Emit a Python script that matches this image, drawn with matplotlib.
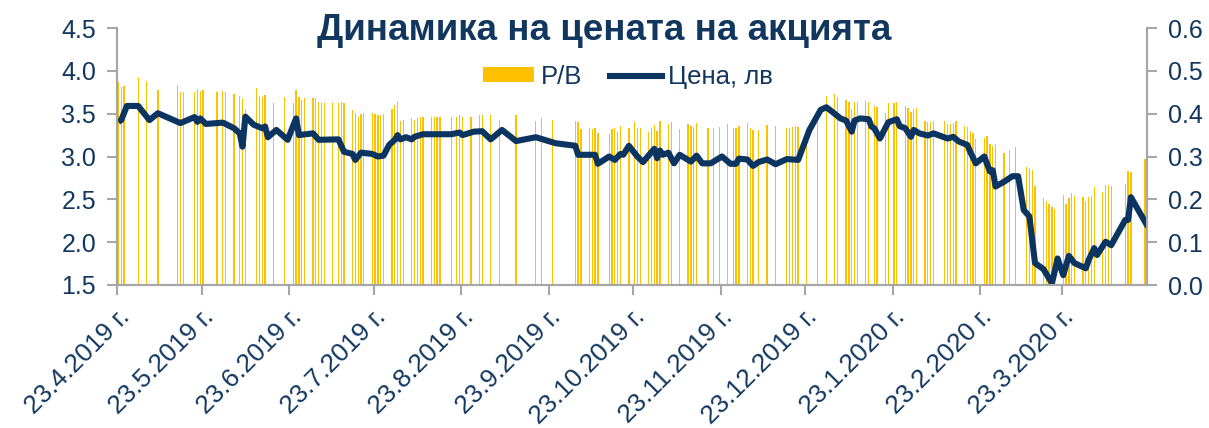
import numpy as np
import pandas as pd
import matplotlib
matplotlib.use('Agg')
import matplotlib.pyplot as plt
import matplotlib.ticker as mticker
from matplotlib.lines import Line2D
from matplotlib.patches import Patch

plt.rcParams['font.family'] = ['Liberation Sans', 'DejaVu Sans']

# Data: day offsets counted from 23.4.2019
start = pd.Timestamp('2019-04-23')

# P/B ratio (left axis), one bar per session
pb_day = [0, 1, 2, 7, 10, 14, 21, 22, 23, 27, 28, 29, 30, 35, 37, 38, 41, 43, 44, 45,
          49, 50, 51, 52, 55, 59, 62, 63, 64, 65, 66, 69, 70, 71, 72, 73, 76, 78, 79, 80,
          83, 84, 85, 86, 87, 90, 91, 92, 93, 94,
          97, 98, 99, 100, 101, 104, 105, 106, 107, 108, 111, 112, 113, 114, 118, 120, 121,
          122, 125, 128, 129, 132, 135,
          141, 148, 150, 154, 162, 163, 164, 167, 168, 169, 170, 174, 175, 176, 177, 178,
          181, 183, 184, 185,
          188, 189, 190, 191, 192, 195, 196, 199, 202, 203, 204, 205, 209, 211, 213, 216,
          218, 219, 220, 223, 224, 225, 227, 230,
          233, 237, 238, 239, 240, 241, 244, 248, 251, 254, 255, 258, 259, 260, 261, 262,
          265, 266, 268, 269, 272, 273, 275, 276,
          279, 280, 281, 282, 283, 286, 287, 288, 289, 293, 294, 295, 296, 297, 300, 301,
          302, 303, 304, 307, 308, 309, 310, 311, 314, 316, 318, 322, 323, 324,
          325, 328, 329, 330, 331, 332, 335, 336, 337, 338, 339, 342, 343, 344, 345, 346,
          349, 350, 351, 352, 357, 358, 359, 364]
pb_val = [3.87, 3.81, 3.82, 3.93, 3.88, 3.78, 3.83, 3.75, 3.75, 3.75, 3.79, 3.76, 3.78, 3.75, 3.76, 3.75, 3.73, 3.71, 3.67, 3.56,
          3.80, 3.71, 3.69, 3.72, 3.63, 3.70, 3.62, 3.78, 3.70, 3.66, 3.68, 3.68, 3.68, 3.64, 3.62, 3.62, 3.63, 3.62, 3.64, 3.62,
          3.54, 3.51, 3.46, 3.50, 3.51, 3.51, 3.50, 3.49, 3.49, 3.50,
          3.56, 3.60, 3.65, 3.42, 3.43, 3.45, 3.43, 3.45, 3.46, 3.46, 3.46, 3.46, 3.46, 3.46, 3.46, 3.46, 3.48,
          3.46, 3.46, 3.48, 3.48, 3.49, 3.43,
          3.49, 3.42, 3.45, 3.43, 3.41, 3.40, 3.32, 3.33, 3.32, 3.33, 3.28, 3.26, 3.32, 3.33, 3.29, 3.36,
          3.33, 3.40, 3.33, 3.33,
          3.29, 3.33, 3.37, 3.30, 3.41, 3.38, 3.40, 3.32, 3.38, 3.36, 3.35, 3.39, 3.33, 3.33, 3.35, 3.38,
          3.33, 3.33, 3.36, 3.39, 3.33, 3.31, 3.31, 3.37,
          3.36, 3.33, 3.33, 3.35, 3.36, 3.34, 3.31, 3.40, 3.71, 3.73, 3.69, 3.66, 3.64, 3.56, 3.64, 3.64,
          3.65, 3.64, 3.59, 3.58, 3.51, 3.62, 3.63, 3.64,
          3.59, 3.57, 3.52, 3.56, 3.57, 3.41, 3.40, 3.40, 3.41, 3.41, 3.38, 3.38, 3.39, 3.41, 3.36, 3.34,
          3.30, 3.27, 3.20, 3.22, 3.24, 3.15, 3.12, 3.15, 3.04, 3.08, 3.11, 2.88, 2.86, 2.84,
          2.65, 2.52, 2.48, 2.44, 2.41, 2.39, 2.55, 2.44, 2.52, 2.57, 2.54, 2.53, 2.48, 2.53, 2.54, 2.64,
          2.59, 2.67, 2.67, 2.65, 2.68, 2.83, 2.82, 2.97]

# share price, lv (right axis)
price_day = [0, 1, 3, 7, 11, 14, 22, 27, 28, 29, 31, 37, 38, 41, 43, 44, 45, 48, 51, 52,
             53, 56, 60, 63, 64, 69, 71, 78, 80, 83, 84, 86, 90, 92, 94, 96, 98, 99, 100, 102,
             104, 105, 108, 118, 121, 122, 126, 129, 132, 136, 141, 148, 155, 162, 163, 169, 170, 174, 176, 178,
             179, 181, 184, 186, 190, 191, 192, 193, 195, 197, 199, 203, 205, 207, 210, 214, 217, 219, 220, 223,
             225, 227, 230, 233, 237, 241, 245, 249, 251, 253, 256, 258, 260, 261, 263, 266, 267, 268, 270, 273,
             276, 277, 279, 281, 282, 284, 287, 289, 294, 296, 298, 301, 302, 304, 307, 309, 310, 311, 314, 317,
             319, 321, 323, 325, 328, 331, 333, 335, 337, 339, 343, 344, 346, 347, 350, 352, 357, 358, 359, 365]
price_val = [0.381, 0.385, 0.418, 0.418, 0.385, 0.401, 0.378, 0.392, 0.381, 0.389, 0.376, 0.379, 0.376, 0.366, 0.354, 0.323, 0.393, 0.374, 0.366, 0.370,
             0.345, 0.362, 0.339, 0.389, 0.350, 0.354, 0.339, 0.340, 0.311, 0.306, 0.292, 0.309, 0.306, 0.300, 0.302, 0.327, 0.339, 0.350, 0.340, 0.345,
             0.340, 0.346, 0.352, 0.352, 0.356, 0.350, 0.358, 0.359, 0.340, 0.362, 0.336, 0.345, 0.331, 0.325, 0.304, 0.304, 0.283, 0.300, 0.292, 0.306,
             0.304, 0.325, 0.300, 0.287, 0.318, 0.296, 0.314, 0.304, 0.309, 0.284, 0.304, 0.288, 0.302, 0.284, 0.284, 0.300, 0.283, 0.283, 0.295, 0.293,
             0.278, 0.287, 0.293, 0.282, 0.294, 0.292, 0.362, 0.409, 0.415, 0.405, 0.389, 0.384, 0.358, 0.384, 0.389, 0.387, 0.370, 0.366, 0.342, 0.380,
             0.387, 0.371, 0.366, 0.346, 0.362, 0.354, 0.349, 0.354, 0.342, 0.346, 0.335, 0.327, 0.311, 0.284, 0.300, 0.265, 0.268, 0.230, 0.241, 0.254,
             0.254, 0.175, 0.160, 0.051, 0.037, 0.004, 0.062, 0.023, 0.068, 0.051, 0.039, 0.058, 0.086, 0.070, 0.101, 0.093, 0.152, 0.152, 0.205, 0.136]

title = 'Динамика на цената на акцията'
bar_label = 'P/B'
line_label = 'Цена, лв'

navy = '#0B3560'
text_col = '#12375F'
gold = '#FFC000'
grey = '#A6A6A6'

fig = plt.figure(figsize=(12.09, 4.28), dpi=100)
ax = fig.add_axes([117 / 1209, 1 - 285 / 428, 1030 / 1209, 257 / 428])
ax2 = ax.twinx()

half = pd.Timedelta(hours=12)
pb_dates = start + pd.to_timedelta(pb_day, unit='D') + half
price_dates = start + pd.to_timedelta(price_day, unit='D') + half

ax.bar(pb_dates, pb_val, width=0.45, color=gold, linewidth=0, bottom=0)
ax2.plot(price_dates, price_val, color=navy, lw=4.4, solid_joinstyle='round',
         solid_capstyle='butt')

ax.set_ylim(1.5, 4.5)
ax.set_yticks(np.arange(1.5, 4.51, 0.5))
ax.yaxis.set_major_formatter(mticker.FormatStrFormatter('%.1f'))
ax2.set_ylim(0, 0.6)
ax2.set_yticks(np.arange(0, 0.61, 0.1))
ax2.yaxis.set_major_formatter(mticker.FormatStrFormatter('%.1f'))

ax.set_xlim(start, start + pd.Timedelta(days=365.2))
ticks = [start + pd.DateOffset(months=i) for i in range(12)]
ax.set_xticks(ticks)
ax.set_xticklabels([f'{d.day}.{d.month}.{d.year} г.' for d in ticks],
                   rotation=45, ha='right', va='top', rotation_mode='anchor')

for a in (ax, ax2):
    a.spines['top'].set_visible(False)
    for side in ('left', 'right', 'bottom'):
        a.spines[side].set_color(grey)
        a.spines[side].set_linewidth(1.5)
    a.tick_params(colors=grey, labelcolor=text_col, labelsize=18, length=7, width=1.5,
                  direction='out')
ax.tick_params(axis='x', pad=7, labelsize=18.8)
ax.tick_params(axis='y', pad=8)
ax2.tick_params(axis='y', pad=8)
ax.set_zorder(0)
ax2.set_zorder(1)

fig.text(0.5, 1 - 31 / 428, title, ha='center', va='center', fontsize=26.5,
         fontweight='bold', color=text_col)

handles = [Patch(facecolor=gold, edgecolor='none'),
           Line2D([], [], color=navy, lw=4.4)]
ax2.legend(handles, [bar_label, line_label], loc='center', bbox_to_anchor=(0.496, 0.81),
           ncol=2, frameon=False, fontsize=18.5, labelcolor=text_col,
           handlelength=2.0, handleheight=0.5, handletextpad=0.25, columnspacing=1.1)

fig.savefig('out.png', dpi=100)
